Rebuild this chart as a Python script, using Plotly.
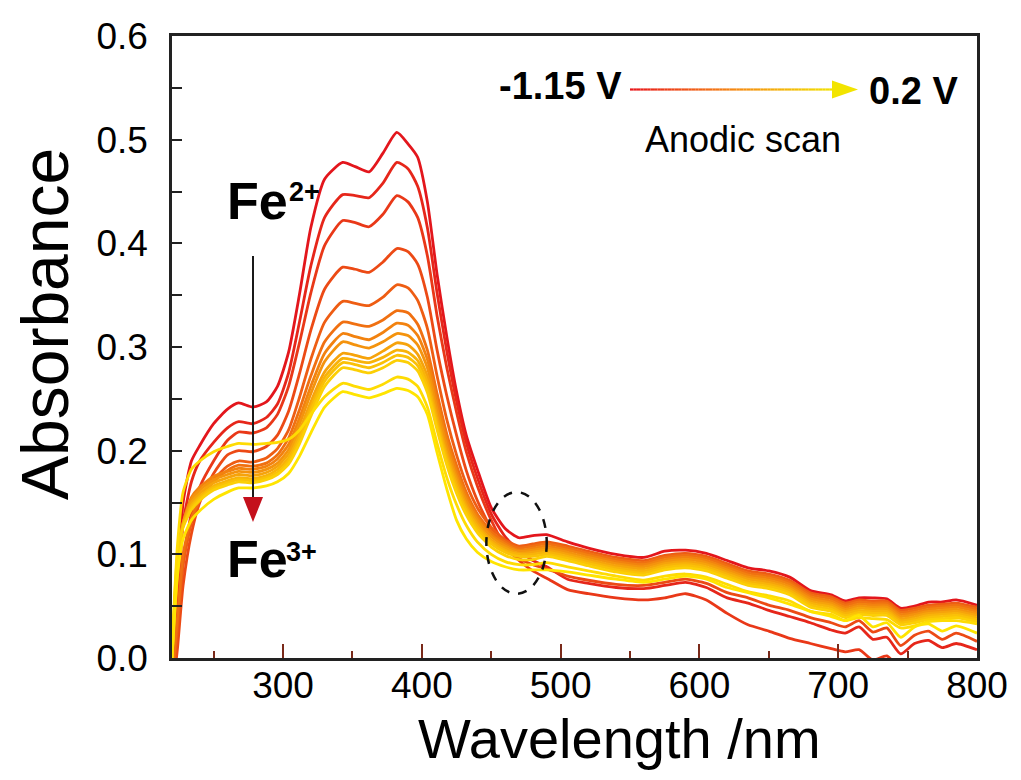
import plotly.graph_objects as go

# Wavelength grid (nm) shared by all spectra
wavelength = [220, 224, 228, 234, 240, 250, 260, 268, 278, 288, 296, 304, 312, 320, 330,
              343, 352, 362, 372, 382, 390, 397, 404, 411, 418, 425, 432, 440, 450, 460,
              470, 480, 490, 505, 520, 540, 560, 575, 590, 605, 620, 635, 650, 665, 680,
              695, 705, 715, 725, 735, 745, 755, 765, 775, 785, 800]

# Absorbance spectra recorded along the anodic scan (-1.15 V first, 0.2 V last)
scan_01 = [0.00, 0.07, 0.15, 0.19, 0.205, 0.226, 0.240, 0.246, 0.242, 0.247, 0.262, 0.295, 0.352, 0.415, 0.462,
           0.478, 0.474, 0.469, 0.487, 0.507, 0.496, 0.483, 0.440, 0.370, 0.310, 0.257, 0.215, 0.182, 0.145, 0.125,
           0.116, 0.118, 0.119, 0.112, 0.106, 0.100, 0.097, 0.103, 0.104, 0.101, 0.094, 0.087, 0.084, 0.078, 0.065,
           0.061, 0.055, 0.058, 0.058, 0.057, 0.048, 0.050, 0.054, 0.054, 0.056, 0.051]
scan_02 = [-0.01, 0.05, 0.13, 0.17, 0.19, 0.208, 0.222, 0.228, 0.226, 0.232, 0.245, 0.275, 0.325, 0.378, 0.425,
           0.447, 0.446, 0.444, 0.458, 0.478, 0.472, 0.455, 0.415, 0.352, 0.296, 0.248, 0.208, 0.174, 0.139, 0.117,
           0.104, 0.094, 0.088, 0.076, 0.072, 0.068, 0.067, 0.070, 0.073, 0.068, 0.058, 0.053, 0.046, 0.040, 0.034,
           0.027, 0.024, 0.030, 0.018, 0.020, 0.004, 0.014, 0.017, 0.010, 0.014, 0.008]
scan_03 = [-0.03, 0.02, 0.09, 0.14, 0.165, 0.19, 0.210, 0.218, 0.217, 0.222, 0.235, 0.262, 0.305, 0.352, 0.398,
           0.422, 0.420, 0.416, 0.428, 0.446, 0.440, 0.425, 0.388, 0.330, 0.280, 0.237, 0.199, 0.166, 0.133, 0.108,
           0.094, 0.084, 0.077, 0.066, 0.062, 0.058, 0.056, 0.058, 0.062, 0.056, 0.043, 0.032, 0.026, 0.019, 0.014,
           0.009, 0.006, 0.008, -0.002, 0.002, -0.010, -0.004, -0.003, -0.008, -0.004, -0.008]
scan_04 = [-0.04, 0.01, 0.07, 0.12, 0.15, 0.178, 0.196, 0.200, 0.199, 0.204, 0.215, 0.238, 0.275, 0.316, 0.356,
           0.377, 0.375, 0.372, 0.382, 0.395, 0.392, 0.380, 0.348, 0.297, 0.253, 0.215, 0.181, 0.152, 0.125, 0.106,
           0.096, 0.090, 0.086, 0.079, 0.075, 0.071, 0.070, 0.073, 0.076, 0.072, 0.063, 0.058, 0.051, 0.046, 0.039,
           0.034, 0.030, 0.036, 0.025, 0.029, 0.012, 0.022, 0.026, 0.018, 0.024, 0.016]
scan_05 = [-0.03, 0.03, 0.09, 0.13, 0.152, 0.172, 0.185, 0.190, 0.189, 0.193, 0.202, 0.220, 0.252, 0.288, 0.324,
           0.344, 0.342, 0.340, 0.348, 0.360, 0.357, 0.345, 0.318, 0.272, 0.230, 0.196, 0.168, 0.145, 0.126, 0.114,
           0.108, 0.110, 0.112, 0.108, 0.103, 0.097, 0.094, 0.099, 0.101, 0.098, 0.091, 0.084, 0.081, 0.075, 0.063,
           0.059, 0.053, 0.056, 0.055, 0.055, 0.046, 0.048, 0.051, 0.052, 0.053, 0.049]
scan_06 = [-0.02, 0.04, 0.10, 0.135, 0.152, 0.170, 0.181, 0.186, 0.185, 0.188, 0.196, 0.212, 0.240, 0.272, 0.305,
           0.324, 0.322, 0.320, 0.326, 0.335, 0.333, 0.322, 0.297, 0.255, 0.216, 0.186, 0.160, 0.139, 0.122, 0.112,
           0.106, 0.108, 0.110, 0.106, 0.101, 0.095, 0.092, 0.097, 0.099, 0.096, 0.089, 0.082, 0.079, 0.073, 0.061,
           0.057, 0.051, 0.054, 0.053, 0.053, 0.044, 0.046, 0.049, 0.050, 0.051, 0.047]
scan_07 = [0.00, 0.08, 0.13, 0.155, 0.165, 0.175, 0.180, 0.183, 0.182, 0.185, 0.192, 0.206, 0.232, 0.262, 0.294,
           0.313, 0.310, 0.307, 0.314, 0.323, 0.321, 0.311, 0.288, 0.247, 0.210, 0.180, 0.156, 0.136, 0.119, 0.110,
           0.104, 0.106, 0.108, 0.104, 0.099, 0.093, 0.090, 0.095, 0.097, 0.094, 0.087, 0.080, 0.077, 0.071, 0.059,
           0.055, 0.049, 0.052, 0.051, 0.051, 0.042, 0.044, 0.047, 0.048, 0.049, 0.045]
scan_08 = [0.00, 0.085, 0.13, 0.153, 0.162, 0.172, 0.177, 0.180, 0.179, 0.182, 0.188, 0.201, 0.226, 0.255, 0.286,
           0.305, 0.302, 0.299, 0.305, 0.313, 0.311, 0.302, 0.280, 0.240, 0.204, 0.175, 0.152, 0.133, 0.117, 0.108,
           0.103, 0.104, 0.106, 0.102, 0.097, 0.091, 0.088, 0.093, 0.095, 0.092, 0.085, 0.078, 0.075, 0.069, 0.057,
           0.053, 0.047, 0.050, 0.049, 0.049, 0.040, 0.042, 0.045, 0.046, 0.047, 0.043]
scan_09 = [0.00, 0.09, 0.13, 0.150, 0.159, 0.169, 0.174, 0.177, 0.176, 0.179, 0.185, 0.197, 0.220, 0.247, 0.276,
           0.294, 0.292, 0.289, 0.296, 0.304, 0.302, 0.293, 0.272, 0.233, 0.198, 0.171, 0.148, 0.130, 0.114, 0.106,
           0.101, 0.102, 0.104, 0.100, 0.095, 0.089, 0.086, 0.091, 0.093, 0.090, 0.083, 0.076, 0.073, 0.067, 0.055,
           0.051, 0.045, 0.048, 0.047, 0.047, 0.038, 0.040, 0.043, 0.044, 0.045, 0.041]
scan_10 = [0.00, 0.09, 0.128, 0.147, 0.156, 0.166, 0.171, 0.174, 0.173, 0.176, 0.182, 0.193, 0.215, 0.242, 0.271,
           0.289, 0.287, 0.285, 0.290, 0.297, 0.295, 0.287, 0.266, 0.228, 0.194, 0.167, 0.145, 0.127, 0.112, 0.104,
           0.100, 0.100, 0.102, 0.098, 0.093, 0.087, 0.084, 0.089, 0.091, 0.088, 0.081, 0.074, 0.071, 0.065, 0.053,
           0.049, 0.043, 0.046, 0.045, 0.045, 0.036, 0.038, 0.041, 0.042, 0.043, 0.039]
scan_11 = [0.00, 0.095, 0.127, 0.145, 0.154, 0.164, 0.169, 0.172, 0.171, 0.174, 0.179, 0.190, 0.211, 0.238, 0.267,
           0.285, 0.283, 0.280, 0.285, 0.292, 0.290, 0.282, 0.261, 0.224, 0.190, 0.163, 0.142, 0.124, 0.110, 0.102,
           0.098, 0.098, 0.100, 0.096, 0.091, 0.085, 0.082, 0.087, 0.089, 0.086, 0.079, 0.072, 0.069, 0.063, 0.051,
           0.047, 0.041, 0.044, 0.043, 0.043, 0.034, 0.036, 0.039, 0.040, 0.041, 0.037]
scan_12 = [0.00, 0.10, 0.126, 0.143, 0.152, 0.162, 0.167, 0.170, 0.169, 0.172, 0.177, 0.187, 0.207, 0.233, 0.262,
           0.280, 0.278, 0.275, 0.280, 0.287, 0.285, 0.277, 0.256, 0.220, 0.186, 0.159, 0.138, 0.121, 0.107, 0.099,
           0.095, 0.095, 0.098, 0.094, 0.089, 0.083, 0.080, 0.085, 0.087, 0.084, 0.077, 0.070, 0.067, 0.061, 0.049,
           0.045, 0.039, 0.042, 0.041, 0.041, 0.032, 0.034, 0.037, 0.038, 0.039, 0.035]
scan_13 = [0.01, 0.11, 0.16, 0.182, 0.190, 0.199, 0.204, 0.207, 0.206, 0.207, 0.208, 0.211, 0.220, 0.235, 0.252,
           0.265, 0.262, 0.259, 0.264, 0.271, 0.269, 0.262, 0.242, 0.207, 0.174, 0.148, 0.128, 0.112, 0.100, 0.093,
           0.090, 0.090, 0.092, 0.088, 0.084, 0.079, 0.075, 0.079, 0.081, 0.078, 0.071, 0.064, 0.060, 0.055, 0.045,
           0.042, 0.036, 0.039, 0.038, 0.037, 0.029, 0.031, 0.035, 0.036, 0.036, 0.033]
scan_14 = [0.00, 0.08, 0.115, 0.133, 0.142, 0.153, 0.160, 0.164, 0.164, 0.166, 0.170, 0.178, 0.195, 0.217, 0.242,
           0.257, 0.254, 0.251, 0.255, 0.260, 0.258, 0.252, 0.235, 0.198, 0.163, 0.133, 0.115, 0.102, 0.093, 0.088,
           0.085, 0.085, 0.085, 0.083, 0.080, 0.076, 0.073, 0.076, 0.079, 0.076, 0.068, 0.063, 0.058, 0.052, 0.045,
           0.040, 0.036, 0.041, 0.030, 0.034, 0.020, 0.030, 0.033, 0.026, 0.031, 0.024]

spectra = [scan_01, scan_02, scan_03, scan_04, scan_05, scan_06, scan_07,
           scan_08, scan_09, scan_10, scan_11, scan_12, scan_13, scan_14]

# Red (reduced) to yellow (oxidised)
line_colors = ["#e3161c", "#e6261a", "#e93818", "#ec4a15", "#ee5d13", "#f07011", "#f2820f",
               "#f4930d", "#f6a30b", "#f8b309", "#fac107", "#fccf05", "#fedb03", "#ffe400"]

FONT = "Liberation Sans, Arial, sans-serif"

fig = go.Figure()
for values, color in zip(spectra, line_colors):
    fig.add_trace(go.Scatter(
        x=wavelength, y=values, mode="lines",
        line=dict(color=color, width=2.8, shape="spline", smoothing=0.6),
        hoverinfo="skip",
    ))

# Plot-area geometry in pixels, used to place decorations in paper units
L, R, T, B = 172, 977, 36, 658
W, H = R - L, B - T


def px(xp):
    return (xp - L) / W


def py(yp):
    return (B - yp) / H


shapes = []

# Potential-scan arrow with red -> yellow gradient
def lerp(c1, c2, t):
    return tuple(int(round(a + (b - a) * t)) for a, b in zip(c1, c2))


c_red, c_orange, c_yellow = (232, 22, 28), (245, 135, 20), (242, 228, 0)
n_seg = 60
x_start, x_end, y_arrow = 630, 836, 89.5
for i in range(n_seg):
    t0, t1 = i / n_seg, (i + 1) / n_seg
    tm = (t0 + t1) / 2
    col = lerp(c_red, c_orange, tm * 2) if tm < 0.5 else lerp(c_orange, c_yellow, (tm - 0.5) * 2)
    shapes.append(dict(type="line", xref="paper", yref="paper",
                       x0=px(x_start + (x_end - x_start) * t0), x1=px(x_start + (x_end - x_start) * t1),
                       y0=py(y_arrow), y1=py(y_arrow),
                       line=dict(color="rgb(%d,%d,%d)" % col, width=2.2)))
shapes.append(dict(type="path", xref="paper", yref="paper",
                   path="M %f,%f L %f,%f L %f,%f Z" % (px(832), py(80.5), px(858), py(y_arrow), px(832), py(98.5)),
                   fillcolor="rgb(242,228,0)", line=dict(width=0)))

# Fe2+ -> Fe3+ arrow
ax = 253
shapes.append(dict(type="line", xref="paper", yref="paper",
                   x0=px(ax), x1=px(ax), y0=py(256), y1=py(500),
                   line=dict(color="#1a1a1a", width=2)))
shapes.append(dict(type="path", xref="paper", yref="paper",
                   path="M %f,%f L %f,%f L %f,%f Z" % (px(ax - 10), py(497), px(ax + 10), py(497), px(ax), py(522)),
                   fillcolor="#c4101c", line=dict(width=0)))

# Dashed ellipse around the isosbestic region
shapes.append(dict(type="circle", xref="x", yref="y", x0=446.5, x1=490, y0=0.062, y1=0.160,
                   line=dict(color="#111111", width=2.5, dash="dash")))


def note(text, x, y, size, bold=False, xanchor="center", angle=0):
    return dict(text=("<b>%s</b>" % text) if bold else text, xref="paper", yref="paper",
                x=x, y=y, xanchor=xanchor, yanchor="middle", showarrow=False,
                textangle=angle, font=dict(family=FONT, size=size, color="black"))


annotations = [
    note("-1.15 V", px(624), py(86), 38, bold=True, xanchor="right"),
    note("0.2 V", px(867), py(91), 38, bold=True, xanchor="left"),
    note("Anodic scan", px(743), py(139), 36),
    note("Fe", px(225), py(201), 52, bold=True, xanchor="left"),
    note("2+", px(287), py(192), 27, bold=True, xanchor="left"),
    note("Fe", px(225), py(559), 52, bold=True, xanchor="left"),
    note("3+", px(284), py(552), 27, bold=True, xanchor="left"),
    note("Wavelength /nm", px(619), py(738), 56),
    note("Absorbance", px(45), py(324), 66, angle=-90),
]

fig.update_layout(
    width=1021, height=780,
    margin=dict(l=L, r=1021 - R, t=T, b=780 - B),
    paper_bgcolor="white", plot_bgcolor="white",
    showlegend=False,
    shapes=shapes, annotations=annotations,
    font=dict(family=FONT, color="black"),
)

fig.update_xaxes(
    range=[220, 800], tickmode="linear", tick0=0, dtick=100,
    ticks="inside", ticklen=14, tickwidth=2, tickcolor="#7a2a1a",
    minor=dict(ticks="inside", dtick=50, tick0=0, ticklen=7, tickwidth=2, tickcolor="#7a2a1a"),
    showline=True, linewidth=2.5, linecolor="#222222", mirror=True,
    showgrid=False, zeroline=False,
    tickfont=dict(family=FONT, size=37, color="black"),
    ticklabelstandoff=-7,
)
fig.update_yaxes(
    range=[0, 0.6], tickmode="linear", tick0=0, dtick=0.1, tickformat=".1f",
    ticks="inside", ticklen=10, tickwidth=2, tickcolor="#222222",
    minor=dict(ticks="inside", dtick=0.05, tick0=0, ticklen=10, tickwidth=2, tickcolor="#222222"),
    showline=True, linewidth=2.5, linecolor="#222222", mirror=True,
    showgrid=False, zeroline=False,
    tickfont=dict(family=FONT, size=37, color="black"),
    ticklabelstandoff=14,
)

fig.write_html("out.html")
